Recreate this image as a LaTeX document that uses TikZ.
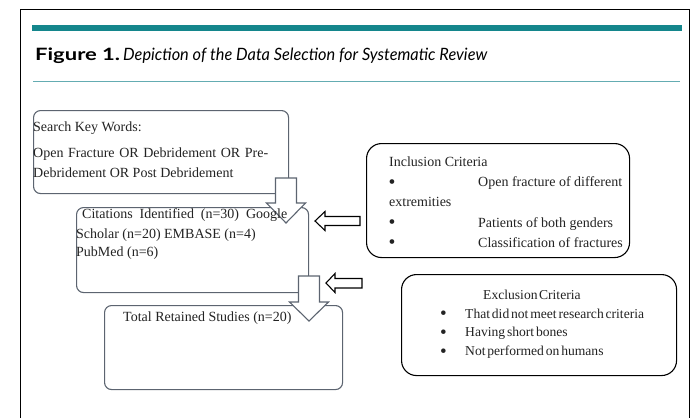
\documentclass[tikz,border=0pt]{standalone}
\usepackage{fontspec}
\setmainfont{Liberation Serif}
\newfontfamily\titlefont{Lato}
\definecolor{tealA}{RGB}{20,134,140}
\definecolor{tealB}{RGB}{100,172,178}
\definecolor{boxgray}{RGB}{92,100,112}
\definecolor{txtc}{RGB}{35,35,35}
\newcommand\bigbul{\raisebox{-1.8pt}{\scalebox{1.4}{\textbullet}}}
\tikzset{
  flowbox/.style={draw=boxgray,line width=1.1pt,rounded corners=7pt,fill=white,anchor=north west,inner sep=0pt},
  critbox/.style={draw=black,line width=1.1pt,rounded corners=15pt,fill=white,anchor=north west,inner sep=0pt},
  txt/.style={anchor=base west,inner sep=0pt,text=txtc,font=\fontsize{14}{16}\selectfont},
  txtx/.style={anchor=base west,inner sep=0pt,text=txtc,font=\fontsize{13.6}{16}\selectfont},
  downarrow/.style={draw=boxgray,line width=1.1pt,fill=white,line join=miter},
  leftarrow/.style={draw=black,line width=1.1pt,fill=white,line join=miter}
}
\begin{document}
\begin{tikzpicture}[x=1pt,y=-1pt]
\useasboundingbox (0,0) rectangle (692,418);
% outer frame
\draw[line width=1pt] (20,418) -- (20,9.5) -- (689,9.5) -- (689,418);
% header rules
\fill[tealA] (32,25) rectangle (682,30.5);
\draw[tealB,line width=0.9pt] (33,81.5) -- (680,81.5);
\node[anchor=base west,inner sep=0pt] (title) at (35,60)
  {\titlefont\fontsize{17}{20}\selectfont\resizebox{85pt}{\height}{\bfseries Figure 1.}\hspace{3pt}\resizebox{364pt}{\height}{\itshape Depiction of the Data Selection for Systematic Review}};

% boxes
\node[flowbox,minimum width=255pt,minimum height=83pt] (kw) at (33,110) {};
\node[flowbox,minimum width=232pt,minimum height=85pt] (cit) at (76,207) {};
\node[flowbox,minimum width=238pt,minimum height=84pt] (tot) at (104,305) {};
\node[critbox,minimum width=263pt,minimum height=114pt] (inc) at (366,143) {};
\node[critbox,minimum width=275pt,minimum height=101pt] (exc) at (401,274) {};

% block arrows
\draw[downarrow] (275.5,178) -- (296.5,178) -- (296.5,203) -- (305.5,203) -- (286,223)
  -- (266.5,203) -- (275.5,203) -- cycle;
\draw[downarrow] (298.5,276) -- (319.5,276) -- (319.5,302) -- (328.5,302) -- (309,321)
  -- (289.5,302) -- (298.5,302) -- cycle;
\draw[leftarrow] (315,221) -- (325,211.5) -- (325,216.5) -- (360,216.5) -- (360,225.5)
  -- (325,225.5) -- (325,230.5) -- cycle;
\draw[leftarrow] (326,283) -- (335,273.5) -- (335,278.5) -- (362,278.5) -- (362,288)
  -- (335,288) -- (335,292.5) -- cycle;

% keyword text
\node[txt] (kw1) at (33,131) {Search Key Words:};
\node[txt] (kw2) at (33,157) {\makebox[235pt][s]{Open Fracture OR Debridement OR Pre-}};
\node[txt] (kw3) at (33,177) {Debridement OR Post Debridement};

% citations text
\node[txt] (c1) at (82,218) {\makebox[205pt][s]{Citations Identified (n=30) Google}};
\node[txt] (c2) at (76,238) {Scholar (n=20) EMBASE (n=4)};
\node[txt] (c3) at (76,256) {PubMed (n=6)};

% total text
\node[txt] (t1) at (123,321) {Total Retained Studies (n=20)};

% inclusion text
\node[txt] (i0) at (389,166) {Inclusion Criteria};
\node[txt] (ib1) at (388.5,186.5) {\bigbul};
\node[txt] (i1) at (478,186.5) {Open fracture of different};
\node[txt] (i1b) at (389,206.5) {extremities};
\node[txt] (ib2) at (388.5,227) {\bigbul};
\node[txt] (i2) at (478,227) {Patients of both genders};
\node[txt] (ib3) at (388.5,247) {\bigbul};
\node[txt] (i3) at (478,247) {Classification of fractures};

% exclusion text
\node[txtx] (e0) at (483,299) {{\spaceskip=1.5pt Exclusion Criteria}};
\node[txtx] (eb1) at (439.8,318) {\bigbul};
\node[txtx] (e1) at (465,318) {{\spaceskip=1.8pt That did not meet research criteria}};
\node[txtx] (eb2) at (439.8,336.5) {\bigbul};
\node[txtx] (e2) at (465,336.5) {{\spaceskip=1.8pt Having short bones}};
\node[txtx] (eb3) at (439.8,355.5) {\bigbul};
\node[txtx] (e3) at (465,355.5) {{\spaceskip=1.8pt Not performed on humans}};
\end{tikzpicture}
\end{document}
